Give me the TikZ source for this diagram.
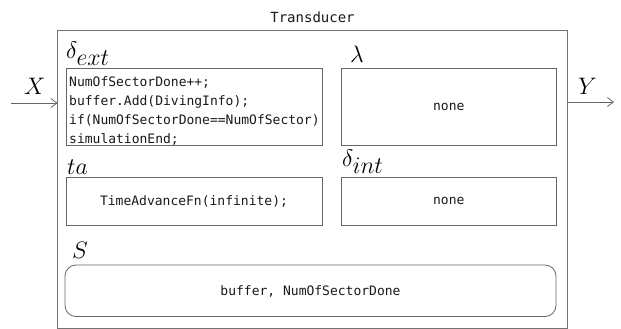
\documentclass[tikz,border=0pt]{standalone}
\usepackage{graphicx}
\usepackage{fontspec}
\setmonofont{DejaVu Sans Mono}
\usetikzlibrary{arrows.meta}
\newcommand\fnlabel[1]{\scalebox{1.38}{\LARGE$#1$}}
\tikzset{
  frame/.style={draw=black!55, line width=0.8pt},
  fnbox/.style={draw=black!60, line width=0.8pt},
  code/.style={font=\ttfamily\fontsize{13}{19}\selectfont, text=black!90, inner sep=0pt},
  lbl/.style={inner sep=0pt, anchor=base west},
  port/.style={draw=black!60, line width=0.8pt, -{Straight Barb[length=6pt,width=9pt]}},
}
\begin{document}
\begin{tikzpicture}[x=1pt,y=-1pt]
\useasboundingbox (0,0) rectangle (621,329);

% outer model frame and title
\draw[frame] (57.5,30.5) rectangle (567.5,328);
\node[code, font=\ttfamily\fontsize{14}{14}\selectfont] (title) at (312.5,17) {Transducer};

% function boxes
\draw[fnbox] (66,68.5) rectangle (322,145.5);
\draw[fnbox] (341.5,68.5) rectangle (556,145.5);
\draw[fnbox] (66,177.5) rectangle (322,225);
\draw[fnbox] (341.5,177.5) rectangle (556,225);
\draw[fnbox, rounded corners=11pt] (65,265) rectangle (556,316.5);

% box labels
\node[lbl] (lext) at (66,59) {\fnlabel{\delta_{\textstyle ext}}};
\node[lbl] (llam) at (350,63) {\fnlabel{\lambda}};
\node[lbl] (lta) at (67,174.5) {\fnlabel{ta}};
\node[lbl] (lint) at (342,166) {\fnlabel{\delta_{\textstyle int}}};
\node[lbl] (lS) at (72,258) {\fnlabel{S}};

% box contents
\node[code, anchor=north west, align=left] (cext) at (69,76) {NumOfSectorDone++;\\buffer.Add(DivingInfo);\\if(NumOfSectorDone==NumOfSector)\\simulationEnd;};
\node[code] (clam) at (448.75,107) {none};
\node[code] (cta) at (194,201.25) {TimeAdvanceFn(infinite);};
\node[code] (cint) at (448.75,201.25) {none};
\node[code] (cS) at (310.5,291) {buffer, NumOfSectorDone};

% input and output ports
\coordinate (xin) at (11,103);
\coordinate (xend) at (57.5,103);
\coordinate (ystart) at (567.5,102);
\coordinate (yout) at (614,102);
\draw[port] (xin) -- (xend);
\draw[port] (ystart) -- (yout);
\node[lbl] (lX) at (24,95) {\fnlabel{X}};
\node[lbl] (lY) at (578,95) {\fnlabel{Y}};
\end{tikzpicture}
\end{document}
